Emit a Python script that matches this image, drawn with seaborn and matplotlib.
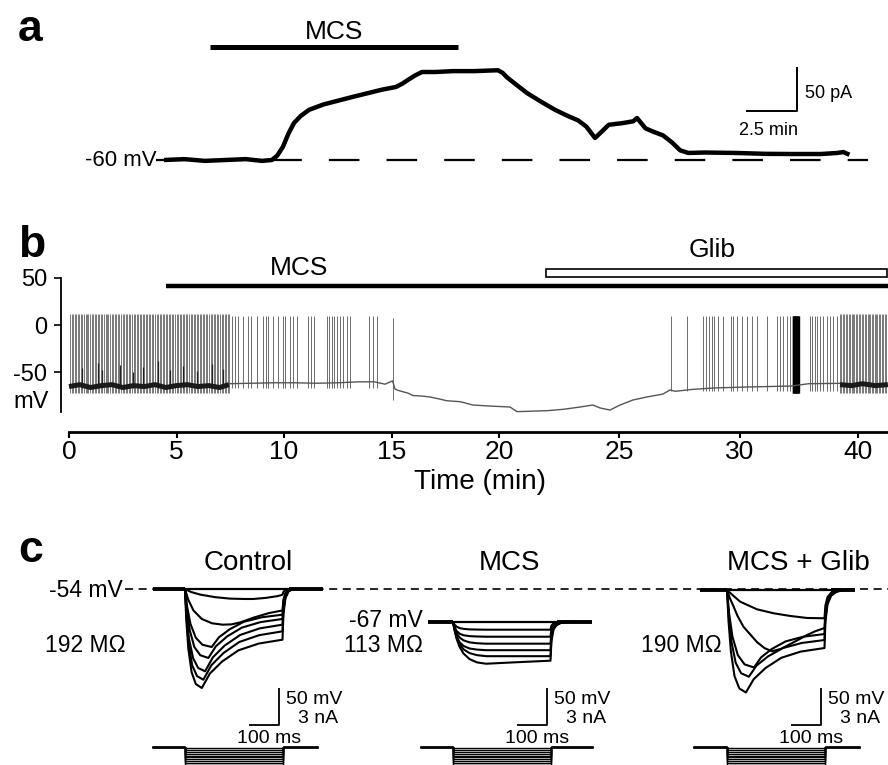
import numpy as np
import pandas as pd
import matplotlib
matplotlib.use("Agg")
import matplotlib.pyplot as plt
import seaborn as sns
from matplotlib.patches import Rectangle

# ======================= DATA =======================
# ---- panel a: holding current (pA) at -60 mV vs time (min) ----
a_time_min = [0, 1, 2, 3, 4, 4.8, 5.29, 5.55, 5.83, 6.1, 6.37, 6.7, 7.11, 7.8, 8.63, 9.3,
              10.0, 10.7, 11.37, 11.7, 11.96, 12.3, 12.65, 13.3, 14.17, 15.2, 16.37, 16.6,
              16.81, 17.3, 17.8, 18.5, 19.17, 19.8, 20.3, 20.7, 21.13, 21.4, 21.8, 22.5, 23.0,
              23.19, 23.6, 24.0, 24.46, 24.9, 25.3, 25.7, 26.5, 28.04, 29.5, 30.8, 32.2, 33.0,
              33.3, 33.6]
a_current_pA = [0, 1, -1, 0, 1, -1, 0, 5, 15, 30, 42, 50, 57, 63, 68, 72,
                76, 80, 83, 87, 91, 96, 100, 100, 101, 101, 102, 99,
                94, 85, 76, 66, 57, 50, 45, 38, 25, 31, 40, 42, 44,
                47.7, 36, 32, 28, 20, 11, 8, 8.5, 8, 7, 6.8, 6.8, 8,
                9, 6]
a_mcs_min = [2.25, 14.41]
a_dash_min = [-0.39, 34.5]
a_scale_pA = 50
a_scale_min = 2.5

# ---- panel b: membrane potential (mV) vs time (min) ----
b_dense1_spikes = [0.05, 0.12, 0.2, 0.26, 0.33, 0.41, 0.47, 0.55, 0.6, 0.68, 0.77, 0.83, 0.9,
                   0.98, 1.05, 1.1, 1.19, 1.26, 1.33, 1.4, 1.47, 1.55, 1.61, 1.7, 1.77, 1.83,
                   1.92, 1.98, 2.06, 2.13, 2.2, 2.28, 2.34, 2.42, 2.49, 2.56, 2.63, 2.7, 2.78,
                   2.84, 2.92, 3.0, 3.06, 3.14, 3.2, 3.28, 3.35, 3.42, 3.5, 3.56, 3.64, 3.71,
                   3.78, 3.86, 3.92, 4.0, 4.07, 4.14, 4.22, 4.28, 4.36, 4.43, 4.5, 4.58, 4.64,
                   4.72, 4.79, 4.86, 4.94, 5.0, 5.08, 5.15, 5.22, 5.3, 5.36, 5.44, 5.51, 5.58,
                   5.66, 5.72, 5.8, 5.87, 5.94, 6.02, 6.08, 6.16, 6.23, 6.3, 6.38, 6.44, 6.52,
                   6.59, 6.66, 6.74, 6.8, 6.88, 6.95, 7.02, 7.1, 7.16, 7.24, 7.31, 7.38, 7.44]
b_sparse1_spikes = [7.58, 7.72, 7.86, 8.09, 8.33, 8.47, 8.74, 9.02, 9.16, 9.26, 9.49, 9.72,
                    9.95, 10.05, 10.28, 10.42, 10.6, 11.12, 11.26, 11.4, 12.0, 12.09, 12.23,
                    12.33, 12.47, 12.6, 12.74, 12.93, 13.07, 13.95, 14.14, 14.33]
b_last_spike = [15.08]
b_sparse2_spikes = [28.0, 28.74, 29.49, 29.63, 29.77, 29.91, 30.0, 30.19, 30.42, 30.79, 30.88,
                    31.07, 31.3, 31.53, 31.77, 32.0, 32.47, 32.93, 33.07, 33.21, 33.4, 33.53,
                    34.47, 34.56, 34.7, 34.79, 34.93, 35.07, 35.26, 35.4, 35.53, 35.72]
b_burst_spikes = [33.67, 33.69, 33.71, 33.73, 33.75, 33.77, 33.79, 33.81, 33.83, 33.85, 33.87,
                  33.89, 33.91, 33.93, 33.95]
b_dense2_spikes = [35.86, 35.93, 36.0, 36.06, 36.13, 36.2, 36.27, 36.33, 36.4, 36.47, 36.53,
                   36.6, 36.67, 36.74, 36.8, 36.87, 36.94, 37.0, 37.07, 37.14, 37.2, 37.27,
                   37.34, 37.4, 37.47, 37.54, 37.6, 37.67, 37.74, 37.8, 37.87, 37.94, 38.0, 38.07]
b_partial_t = [0.6, 1.35, 1.53, 2.37, 2.98, 3.44, 4.14, 4.7, 5.3, 5.95, 6.65, 7.16]
b_partial_top = [-45, -40, -48, -42, -50, -44, -38, -47, -43, -49, -41, -46]
b_band1_t = [0, 0.5, 1, 1.5, 2, 2.5, 3, 3.5, 4, 4.5, 5, 5.5, 6, 6.5, 7, 7.44]
b_band1_v = [-65, -63, -66, -64, -63, -66, -64, -65, -63, -66, -64, -63, -65, -64, -66, -63]
b_band2_t = [35.86, 36.4, 36.9, 37.5, 38.09]
b_band2_v = [-63, -64, -62, -64, -63]
b_base_t = [7.44, 8.5, 9.5, 10.5, 11.5, 12.5, 13.5, 14.2, 14.7, 15.05, 15.16, 15.3, 15.77, 16.0,
            16.4, 16.79, 17.2, 17.58, 18.2, 18.79, 19.5, 20.51, 20.84, 21.5, 22.23, 23.0, 23.77,
            24.37, 24.7, 25.16, 25.63, 26.23, 26.88, 27.63, 27.95, 28.2, 29.0, 30.0, 31.5, 32.5,
            33.6, 34.4, 35.86]
b_base_v = [-62, -61.5, -61, -61, -61.5, -61, -60, -60, -62.5, -59, -67.5, -69, -72, -74.5,
            -75, -76, -78, -80, -81, -84.5, -85.5, -86.6, -91.5, -91, -90.5, -89, -86.6,
            -84.5, -87.6, -89.8, -84.5, -79.2, -76, -72.9, -68.6, -70, -68, -66.5, -65.5, -65,
            -64.4, -62, -61.6]
b_mcs_start = 4.51
b_glib_start = 22.19
b_xtick_pos = [0, 5, 10, 15, 20, 25.6, 31.2, 36.7]
b_xtick_lab = ['0', '5', '10', '15', '20', '25', '30', '40']
b_ytick_pos = [50, 0, -50]
b_ytick_lab = ['50', '0', '-50']

# ---- panel c: voltage responses (deflection, mV) to current steps ----
conds = ['Control', 'MCS', 'MCS + Glib']
rest_mV = [-54, -67, -54]
res_MOhm = [192, 113, 190]
step_ms = 325
v_window_ms = [(-107, 460), (-83, 463), (-90, 427)]
i_window_ms = [(-110, 443), (-110, 467), (-113, 443)]
step_nA = [-0.1, -0.25, -0.4, -0.55, -0.7, -0.85, -1.0, -1.15, -1.3, -1.45]

ctrl_t = [
    [0, 20, 50, 100, 150, 200, 227, 270, 310, 325, 328, 335, 345, 360],
    [0, 11, 28, 56, 90, 125, 155, 185, 230, 280, 325, 328, 335, 345, 360],
    [0, 7, 18, 36, 58, 89, 113, 149, 196, 256, 325, 328, 335, 345, 360],
    [0, 6, 16, 31, 51, 78, 103, 140, 190, 252, 325, 328, 335, 345, 360],
    [0, 5, 13, 27, 44, 67, 93, 132, 184, 249, 325, 328, 335, 345, 360],
    [0, 5, 12, 24, 40, 61, 88, 128, 181, 247, 325, 328, 335, 345, 360],
    [0, 4, 11, 22, 36, 56, 83, 124, 178, 246, 325, 328, 335, 345, 360],
]
ctrl_dv = [
    [0, -4, -7.5, -11, -13, -13.5, -13.5, -12, -9.5, -7.7, -3.9, -1.4, -0.4, 0],
    [0, -14.5, -28.9, -40.5, -46.3, -48.2, -47.8, -45, -38.5, -32.5, -29, -14.5, -5.2, -1.5, 0],
    [0, -23.5, -47, -65.9, -75.3, -78.4, -65.3, -54.4, -44.3, -38.2, -34.7, -17.4, -6.2, -1.7, 0],
    [0, -28, -55.9, -78.3, -89.5, -93.2, -77.4, -64.2, -52.1, -44.7, -40.5, -20.3, -7.3, -2, 0],
    [0, -33.4, -66.7, -93.4, -106.8, -111.2, -92.3, -76.5, -62.1, -53.2, -48.2, -24.1, -8.7, -2.4, 0],
    [0, -36.8, -73.6, -103, -117.7, -122.6, -103, -86.6, -71.6, -62.4, -57.2, -28.6, -10.3, -2.9, 0],
    [0, -40.1, -80.3, -112.4, -128.4, -133.8, -114.2, -97.9, -82.9, -73.7, -68.5, -34.3, -12.3, -3.4, 0],
]
mcs_t_common = [0, 5, 12, 22, 35, 55, 80, 110, 200, 325, 328, 335, 345, 360, 385]
mcs_dv = [
    [0, -3.8, -6.7, -8.6, -9.7, -10.4, -10.6, -10.8, -10.8, -10.8, -5.4, -2.2, -1.0, -0.3, 0],
    [0, -7.1, -12.6, -16.2, -18.3, -19.5, -20.0, -20.3, -20.3, -20.3, -10.2, -4.1, -1.8, -0.6, 0],
    [0, -8.3, -15.7, -21.4, -25.2, -27.9, -29.1, -29.7, -29.7, -29.7, -14.9, -5.9, -2.7, -0.9, 0],
    [0, -10.8, -20.4, -27.7, -32.7, -36.2, -37.7, -38.5, -38.5, -38.5, -19.3, -7.7, -3.5, -1.2, 0],
    [0, -10.3, -21.0, -30.3, -37.3, -42.4, -45.2, -46.6, -46.6, -46.6, -23.3, -9.3, -4.2, -1.4, 0],
    [0, -11, -23, -34, -43, -50.5, -55, -56.8, -55, -52.7, -26.4, -10.5, -4.7, -1.6, 0],
]
glib_t = [
    [0, 22, 44, 100, 156, 211, 267, 325, 328, 335, 347, 365, 390],
    [0, 10, 22, 35, 55, 100, 125, 150, 180, 211, 240, 267, 295, 325, 328, 335, 347, 365, 390],
    [0, 7, 18, 36, 58.5, 90, 113.5, 148.8, 195.8, 254.5, 325, 328, 335, 347, 365, 390],
    [0, 6, 15, 29, 47, 73, 98, 136, 186, 249, 325, 328, 335, 347, 365, 390],
    [0, 5, 13, 25, 41, 63, 89, 128.5, 181, 246, 325, 328, 335, 347, 365, 390],
]
glib_dv = [
    [0, -8.1, -15.8, -26.1, -31.5, -35.1, -37.8, -38.2, -21, -9.6, -3.8, -1.1, 0],
    [0, -11.5, -22.4, -35, -49.7, -70.4, -78.5, -82.8, -79.5, -73, -66.8, -60.8, -55.6, -51.4,
     -28.3, -12.9, -5.1, -1.5, 0],
    [0, -31.4, -62.8, -87.9, -100.5, -104.7, -91.1, -79.8, -69.4, -63.1, -59.5, -32.7, -14.9,
     -6.0, -1.8, 0],
    [0, -35.2, -70.3, -98.4, -112.5, -117.2, -102.3, -89.9, -78.5, -71.6, -67.6, -37.2, -16.9,
     -6.8, -2.0, 0],
    [0, -41.6, -83.1, -116.3, -133, -138.5, -120.5, -105.4, -91.6, -83.2, -78.4, -43.1, -19.6,
     -7.8, -2.4, 0],
]
c_scale_mV, c_scale_ms = 50, 100

# ======================= STYLE / LAYOUT =======================
sns.set_theme(style="ticks")
plt.rcParams['font.family'] = ['Liberation Sans', 'DejaVu Sans']
plt.rcParams['lines.scale_dashes'] = False
plt.rcParams['lines.solid_capstyle'] = 'butt'

W, H = 888, 765
fig = plt.figure(figsize=(W / 100, H / 100), dpi=100)
fig.patch.set_facecolor('white')


def px_axes(box, xref, xscale, yref, yscale):
    """Axes covering a pixel box; xref/yref = (pixel, value); scales in px per unit."""
    x0, y0, x1, y1 = box
    ax = fig.add_axes([x0 / W, 1 - y1 / H, (x1 - x0) / W, (y1 - y0) / H])
    ax.set_xlim(xref[1] + (x0 - xref[0]) / xscale, xref[1] + (x1 - xref[0]) / xscale)
    ax.set_ylim(yref[1] - (y1 - yref[0]) / yscale, yref[1] + (yref[0] - y0) / yscale)
    ax.set_facecolor('none')
    ax._map = (xref, xscale, yref, yscale)
    return ax


def d(ax, px=None, py=None):
    xref, xs, yref, ys = ax._map
    out = []
    if px is not None:
        out.append(xref[1] + (px - xref[0]) / xs)
    if py is not None:
        out.append(yref[1] + (yref[0] - py) / ys)
    return out[0] if len(out) == 1 else out


def ftext(px, py, s, size, ha='left', weight='normal'):
    fig.text(px / W, 1 - py / H, s, fontsize=size, ha=ha, va='baseline',
             fontweight=weight, color='black')


# ======================= PANEL A =======================
ax_a = px_axes((0, 0, 888, 195), (164, 0), 20.4, (160, 0), 0.88)
ax_a.axis('off')
sns.lineplot(x=a_time_min, y=a_current_pA, ax=ax_a, color='black', lw=3.2,
             sort=False, estimator=None)
ax_a.plot(a_dash_min, [0, 0], color='black', lw=1.6, dashes=(22, 19.5))
ybar = d(ax_a, py=47)
ax_a.plot(a_mcs_min, [ybar, ybar], color='black', lw=3.6)
tc, ic = d(ax_a, 797, 111)
ax_a.plot([tc - a_scale_min, tc, tc], [ic, ic, ic + a_scale_pA], color='black', lw=1.4)
ftext(18, 41, 'a', 32, weight='bold')
ftext(334, 39, 'MCS', 19, ha='center')
ftext(157, 166, '-60 mV', 16, ha='right')
ftext(805, 98, '50 pA', 13)
ftext(768, 135, '2.5 min', 13, ha='center')

# ======================= PANEL B =======================
ax_b = px_axes((61, 200, 888, 432), (69, 0), 21.5, (325, 0), 0.947)
xmax_b = ax_b.get_xlim()[1]
spk_col = '#555555'
ax_b.vlines(b_dense1_spikes, -72, 12, color=spk_col, lw=0.55)
ax_b.vlines(b_dense2_spikes, -72, 12, color=spk_col, lw=0.55)
ax_b.vlines(b_sparse1_spikes, -67, 10, color=spk_col, lw=0.6)
ax_b.vlines(b_last_spike, -79, 7, color=spk_col, lw=0.6)
ax_b.vlines(b_sparse2_spikes, -70, 9, color=spk_col, lw=0.6)
ax_b.vlines(b_burst_spikes, -72, 9, color='black', lw=1.0)
ax_b.vlines(b_partial_t, -66, b_partial_top, color='#222222', lw=0.9)
sns.lineplot(x=b_base_t, y=b_base_v, ax=ax_b, color='#555555', lw=1.0, sort=False, estimator=None)
sns.lineplot(x=b_band1_t, y=b_band1_v, ax=ax_b, color='#1a1a1a', lw=3.6, sort=False, estimator=None)
sns.lineplot(x=b_band2_t, y=b_band2_v, ax=ax_b, color='#1a1a1a', lw=3.6, sort=False, estimator=None)
ymcs = d(ax_b, py=286)
ax_b.plot([b_mcs_start, xmax_b], [ymcs, ymcs], color='black', lw=3.2)
g_lo, g_hi = d(ax_b, py=277), d(ax_b, py=269)
ax_b.add_patch(Rectangle((b_glib_start, g_lo), xmax_b - 0.06 - b_glib_start, g_hi - g_lo,
                         facecolor='white', edgecolor='black', lw=1.2))
for s in ['top', 'right']:
    ax_b.spines[s].set_visible(False)
ax_b.spines['left'].set_bounds(-92, 50)
ax_b.spines['left'].set_linewidth(1.3)
ax_b.spines['bottom'].set_bounds(0, xmax_b)
ax_b.spines['bottom'].set_linewidth(2.0)
ax_b.spines['left'].set_color('black')
ax_b.spines['bottom'].set_color('black')
ax_b.set_xticks(b_xtick_pos)
ax_b.set_xticklabels(b_xtick_lab)
ax_b.set_yticks(b_ytick_pos)
ax_b.set_yticklabels(b_ytick_lab)
ax_b.tick_params(axis='x', direction='out', length=4.5, width=1.5, pad=1, labelsize=19,
                 colors='black', bottom=True)
ax_b.tick_params(axis='y', direction='out', length=5, width=1.2, pad=5, labelsize=17,
                 colors='black', left=True)
ax_b.set_xlabel('')
ax_b.set_ylabel('')
ftext(18, 257, 'b', 32, weight='bold')
ftext(299, 275, 'MCS', 19, ha='center')
ftext(712, 257, 'Glib', 19, ha='center')
ftext(31, 408, 'mV', 17, ha='center')
ftext(480, 489, 'Time (min)', 20, ha='center')

# ======================= PANEL C =======================
onset_px = [185, 453, 727]
rest_px = [589, 621.7, 590]
trace_sets = [
    (ctrl_t, ctrl_dv),
    ([mcs_t_common] * len(mcs_dv), mcs_dv),
    (glib_t, glib_dv),
]
for k in range(3):
    box = (0, 500, 888, 765)
    ax_v = px_axes(box, (onset_px[k], 0), 0.3, (rest_px[k], rest_mV[k]), 0.74)
    ax_i = px_axes(box, (onset_px[k], 0), 0.3, (747, 0), 37 / 3.0)
    ax_v.axis('off')
    ax_i.axis('off')
    rows = []
    ts, dvs = trace_sets[k]
    for j, (tt, vv) in enumerate(zip(ts, dvs)):
        for t_, v_ in zip(tt, vv):
            rows.append((j, t_, rest_mV[k] + v_))
    df = pd.DataFrame(rows, columns=['trace', 't', 'v'])
    sns.lineplot(data=df, x='t', y='v', units='trace', estimator=None, sort=False,
                 ax=ax_v, color='black', lw=1.5, legend=False)
    w0, w1 = v_window_ms[k]
    r = rest_mV[k]
    ax_v.plot([w0, w1], [r, r], color='black', lw=1.6)
    ax_v.plot([w0, 0], [r, r], color='black', lw=2.8)
    ax_v.plot([345, w1], [r, r], color='black', lw=2.8)
    if k == 0:
        x_a, x_b = d(ax_v, px=125), d(ax_v, px=888)
        ax_v.plot([x_a, x_b], [-54, -54], color='black', lw=1.2, dashes=(5.8, 4.0))
    # current steps
    c0, c1 = i_window_ms[k]
    for amp in step_nA:
        ax_i.plot([c0, 0, 0, step_ms, step_ms, c1], [0, 0, amp, amp, 0, 0],
                  color='black', lw=1.0, solid_joinstyle='miter')
    # scale bar
    bar_px = onset_px[k] + 94
    tcb, vcb = d(ax_v, bar_px, 725)
    ax_v.plot([tcb - c_scale_ms, tcb, tcb], [vcb, vcb, vcb + c_scale_mV], color='black', lw=1.3)
    ftext(bar_px + 7, 704, '50 mV', 14)
    ftext(bar_px + 59, 723, '3 nA', 14, ha='right')
    ftext(bar_px - 10, 743, '100 ms', 14, ha='center')

ftext(18, 562, 'c', 32, weight='bold')
ftext(248, 570, conds[0], 20, ha='center')
ftext(509, 570, conds[1], 20, ha='center')
ftext(798, 570, conds[2], 20, ha='center')
ftext(123, 597, f'{rest_mV[0]} mV', 16.5, ha='right')
ftext(45, 652, f'{res_MOhm[0]} MΩ', 16.5)
ftext(423, 627, f'{rest_mV[1]} mV', 16.5, ha='right')
ftext(423, 652, f'{res_MOhm[1]} MΩ', 16.5, ha='right')
ftext(722, 652, f'{res_MOhm[2]} MΩ', 16.5, ha='right')

fig.savefig('out.png', dpi=100, facecolor='white')
